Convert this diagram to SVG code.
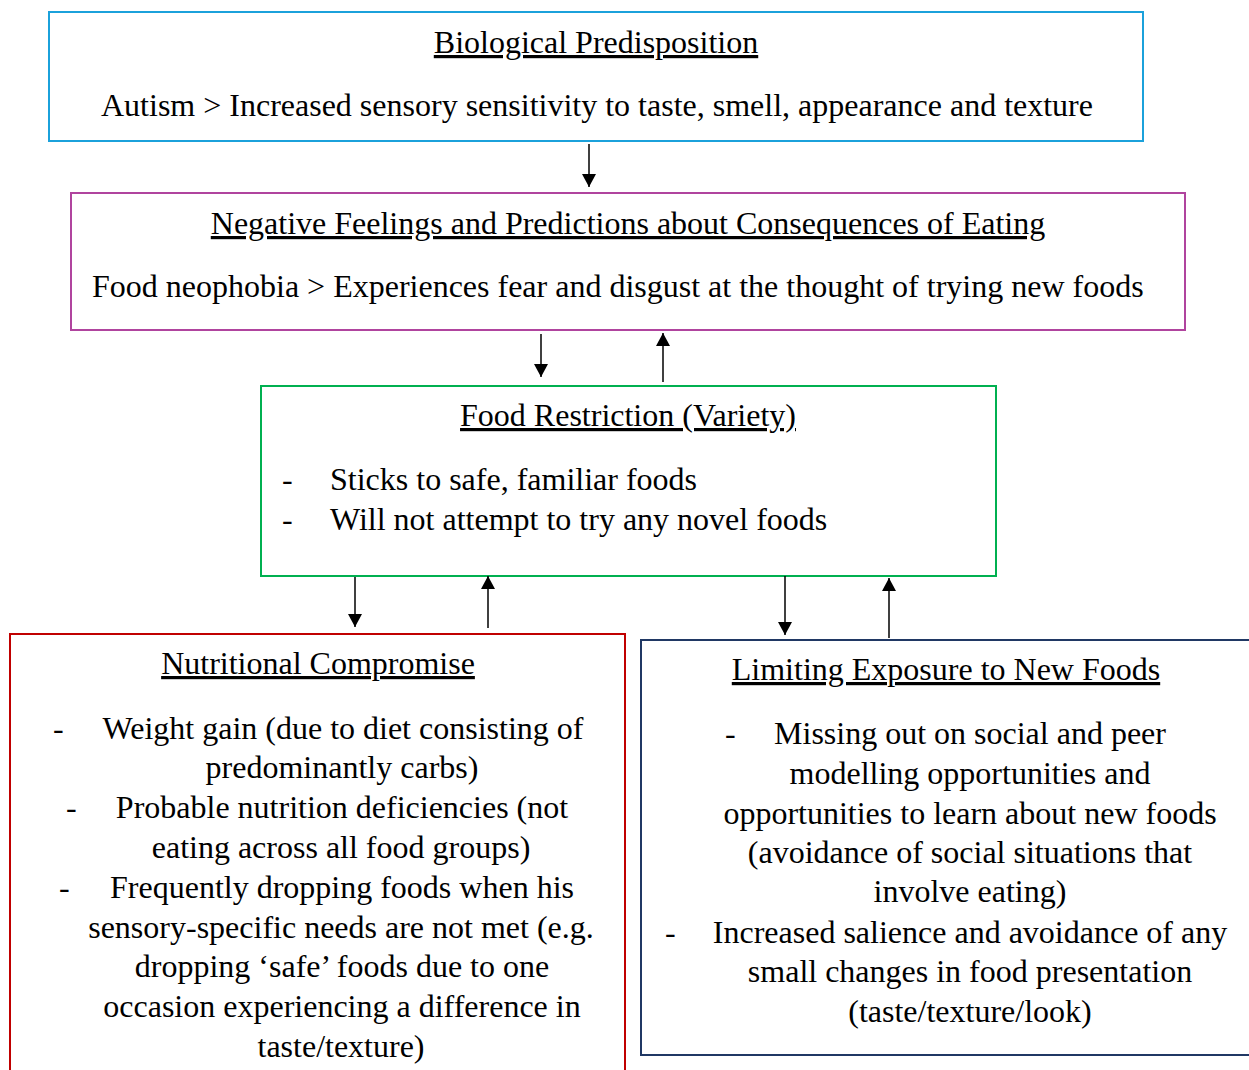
<svg xmlns="http://www.w3.org/2000/svg" width="1249" height="1070" viewBox="0 0 1249 1070">
<defs>
<marker id="ah" viewBox="0 0 14 15" refX="14" refY="7.5" markerWidth="15" markerHeight="14" markerUnits="userSpaceOnUse" orient="auto"><path d="M0,0 L14,7.5 L0,15 z" fill="#000"/></marker>
<style>
text{font-family:"Liberation Serif","Times New Roman",serif;font-size:32px;fill:#000}
.c{text-anchor:middle}
.u{text-decoration:underline;text-decoration-skip-ink:none}
.box{fill:#fff;stroke-width:2}
.arr{stroke:#000;stroke-width:1.5;fill:none;marker-end:url(#ah)}
</style>
</defs>
<rect width="1249" height="1070" fill="#fff"/>
<g id="bio">
<rect class="box" x="49" y="12" width="1094" height="129" stroke="#1ba1db"/>
<text class="c u" x="596" y="53">Biological Predisposition</text>
<text x="101" y="116">Autism &gt; Increased sensory sensitivity to taste, smell, appearance and texture</text>
</g>
<g id="neg">
<rect class="box" x="71" y="193" width="1114" height="137" stroke="#b0449e"/>
<text class="c u" x="628" y="234">Negative Feelings and Predictions about Consequences of Eating</text>
<text x="92" y="297">Food neophobia &gt; Experiences fear and disgust at the thought of trying new foods</text>
</g>
<g id="restr">
<rect class="box" x="261" y="386" width="735" height="190" stroke="#00b050"/>
<text class="c u" x="628" y="426">Food Restriction (Variety)</text>
<text x="282" y="490">-</text>
<text x="330" y="490">Sticks to safe, familiar foods</text>
<text x="282" y="530">-</text>
<text x="330" y="530">Will not attempt to try any novel foods</text>
</g>
<g id="nutr">
<path class="box" d="M10,1071 V634 H625 V1071" stroke="#c00000"/>
<text class="c u" x="318" y="674">Nutritional Compromise</text>
<text x="53" y="739">-</text>
<text class="c" x="343" y="739">Weight gain (due to diet consisting of</text>
<text class="c" x="342" y="778">predominantly carbs)</text>
<text x="66" y="818">-</text>
<text class="c" x="342" y="818">Probable nutrition deficiencies (not</text>
<text class="c" x="341" y="858">eating across all food groups)</text>
<text x="59" y="898">-</text>
<text class="c" x="342" y="898">Frequently dropping foods when his</text>
<text class="c" x="341" y="938">sensory-specific needs are not met (e.g.</text>
<text class="c" x="342" y="977">dropping ‘safe’ foods due to one</text>
<text class="c" x="342" y="1017">occasion experiencing a difference in</text>
<text class="c" x="341" y="1057">taste/texture)</text>
</g>
<g id="limit">
<path class="box" d="M1250,640 H641 V1055 H1250" stroke="#203864"/>
<text class="c u" x="946" y="680">Limiting Exposure to New Foods</text>
<text x="725" y="744">-</text>
<text class="c" x="970" y="744">Missing out on social and peer</text>
<text class="c" x="970" y="784">modelling opportunities and</text>
<text class="c" x="970" y="824">opportunities to learn about new foods</text>
<text class="c" x="970" y="863">(avoidance of social situations that</text>
<text class="c" x="970" y="902">involve eating)</text>
<text x="665" y="943">-</text>
<text class="c" x="970" y="943">Increased salience and avoidance of any</text>
<text class="c" x="970" y="982">small changes in food presentation</text>
<text class="c" x="970" y="1022">(taste/texture/look)</text>
</g>
<g id="connectors">
<line class="arr" x1="589" y1="144" x2="589" y2="187"/>
<line class="arr" x1="541" y1="334" x2="541" y2="377"/>
<line class="arr" x1="663" y1="382" x2="663" y2="333"/>
<line class="arr" x1="355" y1="577" x2="355" y2="627"/>
<line class="arr" x1="488" y1="628" x2="488" y2="576"/>
<line class="arr" x1="785" y1="576" x2="785" y2="635"/>
<line class="arr" x1="889" y1="638" x2="889" y2="578"/>
</g>
</svg>
